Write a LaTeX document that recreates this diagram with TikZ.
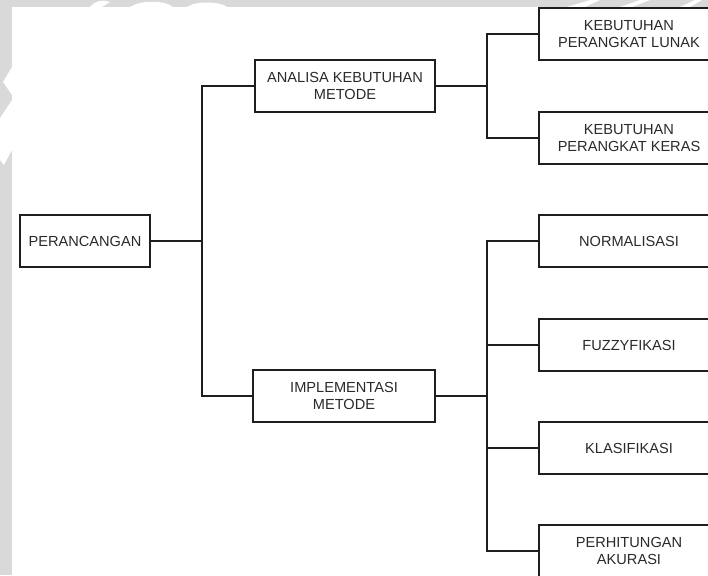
\documentclass[tikz,border=0pt]{standalone}
\usepackage{fontspec}
\setmainfont{Liberation Sans}
\definecolor{bandgray}{HTML}{D9D9D9}
\definecolor{txtgray}{HTML}{2A2A2A}
\definecolor{linecol}{HTML}{1E1E1E}
\begin{document}
\begin{tikzpicture}[x=1pt,y=-1pt,
  box/.style={draw=linecol,line width=1.2pt,fill=white,inner sep=0pt,
    minimum height=52pt,align=center,text=txtgray,
    font=\fontsize{14.6}{17.8}\selectfont},
  conn/.style={draw=linecol,line width=1.2pt}]
\useasboundingbox (0,0) rectangle (708,575);
\clip (0,0) rectangle (708,575);
% background bands
\fill[bandgray] (0,0) rectangle (708,7);
\fill[bandgray] (0,0) rectangle (12,575);
\fill[white] (90,7) .. controls (95,0) and (105,0) .. (110,2) -- (102,7) -- cycle;
\fill[white] (130,7) .. controls (140,0) and (165,0) .. (173,7) -- cycle;
\fill[white] (187,7) .. controls (195,1) and (220,1) .. (227,7) -- cycle;
\fill[white] (567,7) -- (590,0) -- (600,0) -- (585,7) -- cycle;
\fill[white] (620,7) -- (640,0) -- (650,0) -- (632,7) -- cycle;
\fill[white] (680,7) -- (695,0) -- (702,0) -- (690,7) -- cycle;
\fill[white] (3,82) -- (12,67) -- (12,95) -- cycle;
\fill[white] (0,118) -- (12,100) -- (12,150) -- (4,165) -- (0,160) -- cycle;
% nodes
\node[box,minimum width=130pt] (per) at (85,241) {PERANCANGAN};
\node[box,minimum width=180pt] (ana) at (345,86) {ANALISA KEBUTUHAN\\METODE};
\node[box,minimum width=182pt] (imp) at (344,396) {IMPLEMENTASI\\METODE};
\node[box,minimum width=180pt] (lun) at (629,34) {KEBUTUHAN\\PERANGKAT LUNAK};
\node[box,minimum width=180pt] (ker) at (629,138) {KEBUTUHAN\\PERANGKAT KERAS};
\node[box,minimum width=180pt] (nor) at (629,241) {NORMALISASI};
\node[box,minimum width=180pt] (fuz) at (629,345) {FUZZYFIKASI};
\node[box,minimum width=180pt] (kla) at (629,448) {KLASIFIKASI};
\node[box,minimum width=180pt] (akr) at (629,551) {PERHITUNGAN\\AKURASI};
% junction coordinates
\coordinate (j1) at (202,241);
\coordinate (j2) at (487,86);
\coordinate (j3) at (487,396);
% connectors
\draw[conn] (per.east) -- (j1);
\draw[conn] (ana.west) -| (j1) |- (imp.west);
\draw[conn] (ana.east) -- (j2);
\draw[conn] (lun.west) -| (j2) |- (ker.west);
\draw[conn] (imp.east) -- (j3);
\draw[conn] (nor.west) -| (j3) |- (akr.west);
\draw[conn] (fuz.west) -- (fuz.west -| j3);
\draw[conn] (kla.west) -- (kla.west -| j3);
\end{tikzpicture}
\end{document}
